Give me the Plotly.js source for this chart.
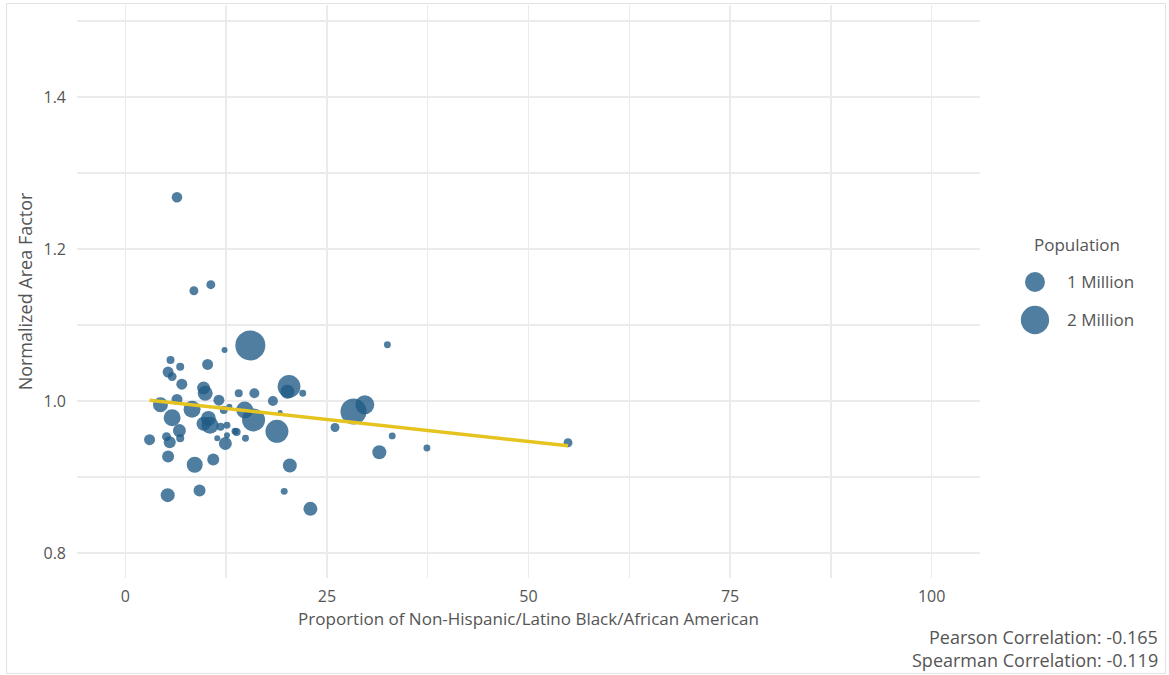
<!DOCTYPE html>
<html>
<head>
<meta charset="utf-8">
<script src="https://cdn.plot.ly/plotly-3.0.1.min.js"></script>
<style>
  html, body { margin: 0; padding: 0; background: #fff; }
  #wrap { position: relative; width: 1169px; height: 675px; }
  #chart { width: 1169px; height: 675px; }
  #frame { position: absolute; left: 6px; top: 3px; width: 1158px; height: 669px; border: 1px solid #e2e2e2; pointer-events: none; }
</style>
</head>
<body>
<div id="wrap"><div id="chart"></div><div id="frame"></div></div>
<script>
// Proportion of Non-Hispanic/Latino Black/African American (%)
const propBlack = [6.4, 8.5, 10.6, 15.5, 12.3, 5.6, 6.8, 10.2, 5.3, 5.8,
  7.0, 9.7, 9.9, 14.06, 16.0, 20.3, 20.1, 22.0, 18.3, 11.6,
  6.4, 4.35, 8.27, 5.8, 10.3, 10.5, 9.7, 11.8, 12.6, 13.6,
  12.2, 12.9, 14.8, 15.9, 18.8, 6.7, 5.1, 6.8, 3.0, 5.5,
  11.4, 12.6, 12.4, 13.8, 14.9, 5.3, 10.9, 8.6, 20.4, 5.25,
  9.2, 19.7, 22.95, 32.5, 19.2, 28.3, 29.7, 26.0, 33.1, 31.5,
  37.4, 54.9];
// Normalized Area Factor
const areaFactor = [1.268, 1.145, 1.153, 1.073, 1.067, 1.054, 1.045, 1.048, 1.038, 1.032,
  1.022, 1.017, 1.010, 1.010, 1.010, 1.019, 1.012, 1.010, 1.000, 1.001,
  1.002, 0.995, 0.989, 0.978, 0.977, 0.968, 0.970, 0.966, 0.968, 0.960,
  0.988, 0.9925, 0.988, 0.975, 0.960, 0.961, 0.953, 0.951, 0.949, 0.9456,
  0.951, 0.955, 0.944, 0.959, 0.951, 0.927, 0.923, 0.916, 0.915, 0.876,
  0.882, 0.881, 0.858, 1.074, 0.985, 0.986, 0.995, 0.965, 0.954, 0.9325,
  0.938, 0.945];
// Population (millions)
const population = [0.28, 0.2, 0.2, 2.25, 0.09, 0.16, 0.16, 0.3, 0.3, 0.2,
  0.3, 0.42, 0.56, 0.16, 0.25, 1.3, 0.49, 0.12, 0.25, 0.3,
  0.3, 0.56, 0.72, 0.72, 0.56, 0.72, 0.5, 0.16, 0.12, 0.12,
  0.16, 0.09, 0.72, 1.32, 1.32, 0.42, 0.2, 0.16, 0.3, 0.36,
  0.09, 0.09, 0.42, 0.16, 0.12, 0.36, 0.36, 0.64, 0.49, 0.49,
  0.36, 0.12, 0.49, 0.12, 0.06, 1.7, 0.9, 0.2, 0.12, 0.49,
  0.12, 0.2];
// Linear fit
const trendX = [3.0, 54.9];
const trendY = [1.001, 0.941];
// Legend
const legendPop = [1, 2];
const legendLabels = ['1 Million', '2 Million'];
const legendRows = [1, 2];
const xTicks = [0, 25, 50, 75, 100];
const yTicks = [0.8, 1.0, 1.2, 1.4];
const pearson = -0.165;
const spearman = -0.119;

const sizeOf = p => 20 * Math.sqrt(p);
const pointColor = 'rgb(31,90,133)';
const fontFam = '"Open Sans", "Noto Sans", sans-serif';
const textColor = '#555555';
const gridColor = '#ebebeb';

const traces = [
  {
    type: 'scatter', mode: 'markers',
    x: propBlack, y: areaFactor,
    marker: { size: population.map(sizeOf), color: pointColor, opacity: 0.78, line: { width: 0 } },
    hoverinfo: 'x+y', showlegend: false
  },
  {
    type: 'scatter', mode: 'lines',
    x: trendX, y: trendY,
    line: { color: '#e6c420', width: 3.5 },
    showlegend: false, hoverinfo: 'skip'
  },
  {
    type: 'scatter', mode: 'markers',
    x: [0.5, 0.5], y: legendRows,
    xaxis: 'x2', yaxis: 'y2',
    marker: { size: legendPop.map(sizeOf), color: pointColor, opacity: 0.78, line: { width: 0 } },
    showlegend: false, hoverinfo: 'skip'
  }
];

const legFont = { family: fontFam, size: 17, color: textColor };
const corrFont = { family: fontFam, size: 18, color: textColor };
const annotations = [
  { text: 'Population', xref: 'paper', yref: 'paper', x: 0.8786, y: 0.5812, xanchor: 'left', yanchor: 'middle', showarrow: false, font: legFont },
  { text: legendLabels[0], xref: 'paper', yref: 'paper', x: 0.9089, y: 0.5166, xanchor: 'left', yanchor: 'middle', showarrow: false, font: legFont },
  { text: legendLabels[1], xref: 'paper', yref: 'paper', x: 0.9089, y: 0.4503, xanchor: 'left', yanchor: 'middle', showarrow: false, font: legFont },
  { text: 'Pearson Correlation: ' + pearson.toFixed(3), xref: 'paper', yref: 'paper', x: 0.9963, y: -0.103, xanchor: 'right', yanchor: 'middle', showarrow: false, font: corrFont },
  { text: 'Spearman Correlation: ' + spearman.toFixed(3), xref: 'paper', yref: 'paper', x: 0.9963, y: -0.143, xanchor: 'right', yanchor: 'middle', showarrow: false, font: corrFont }
];

const layout = {
  width: 1169, height: 675,
  margin: { l: 77, r: 5, t: 5, b: 97 },
  paper_bgcolor: '#ffffff', plot_bgcolor: '#ffffff',
  font: { family: fontFam, color: textColor, size: 16 },
  showlegend: false,
  xaxis: {
    domain: [0, 0.8307],
    range: [-6, 106],
    tickvals: xTicks, ticktext: xTicks.map(String),
    showgrid: true, gridcolor: gridColor, gridwidth: 1.5,
    minor: { dtick: 12.5, tick0: 0, showgrid: true, gridcolor: gridColor, gridwidth: 1.5 },
    zeroline: false, showline: false, ticks: '',
    ticklabelstandoff: 7,
    tickfont: { family: fontFam, size: 16, color: textColor },
    title: { text: 'Proportion of Non-Hispanic/Latino Black/African American', font: { family: fontFam, size: 17, color: textColor }, standoff: 2 }
  },
  yaxis: {
    range: [0.767, 1.521],
    tickvals: yTicks, ticktext: yTicks.map(v => v.toFixed(1)),
    showgrid: true, gridcolor: gridColor, gridwidth: 1.5,
    minor: { dtick: 0.1, tick0: 0.8, showgrid: true, gridcolor: gridColor, gridwidth: 1.5 },
    zeroline: false, showline: false, ticks: '',
    ticklabelstandoff: 10,
    tickfont: { family: fontFam, size: 16, color: textColor },
    title: { text: 'Normalized Area Factor', font: { family: fontFam, size: 18, color: textColor }, standoff: 6 }
  },
  xaxis2: { domain: [0.8675, 0.8951], range: [0, 1], visible: false, fixedrange: true, anchor: 'y2' },
  yaxis2: { domain: [0.4171, 0.5497], range: [2.5, 0.5], visible: false, fixedrange: true, anchor: 'x2' },
  annotations: annotations
};

Plotly.newPlot('chart', traces, layout, { displayModeBar: false, staticPlot: true });
</script>
</body>
</html>
